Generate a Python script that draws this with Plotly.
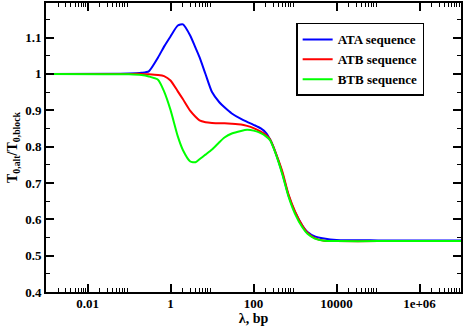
import plotly.graph_objects as go

# lambda (bp) sample points
lam = [1e-3, 0.1, 0.2, 0.3, 0.5, 0.7, 1, 1.5, 2, 3, 4, 5, 7, 10, 15, 20, 30, 50, 70,
       100, 150, 200, 250, 300, 400, 500, 700, 1000, 1500, 2000, 3000, 5000,
       1e4, 1e5, 1e6, 1e7]

ata = [1.0, 1.001, 1.003, 1.007, 1.045, 1.075, 1.103, 1.133, 1.136, 1.105, 1.072, 1.046,
       0.999, 0.95, 0.922, 0.908, 0.891, 0.876, 0.868, 0.86, 0.85, 0.838, 0.82, 0.80,
       0.76, 0.725, 0.665, 0.62, 0.583, 0.565, 0.553, 0.547, 0.543, 0.542, 0.542, 0.542]

atb = [1.0, 1.0, 1.0, 0.999, 0.997, 0.994, 0.982, 0.952, 0.93, 0.898, 0.882, 0.872,
       0.867, 0.865, 0.864, 0.864, 0.863, 0.861, 0.857, 0.851, 0.841, 0.832, 0.82, 0.80,
       0.762, 0.73, 0.668, 0.622, 0.583, 0.563, 0.548, 0.541, 0.54, 0.54, 0.54, 0.54]

btb = [1.0, 0.999, 0.997, 0.993, 0.984, 0.952, 0.901, 0.828, 0.79, 0.759, 0.757, 0.765,
       0.778, 0.792, 0.812, 0.825, 0.836, 0.843, 0.846, 0.844, 0.837, 0.828, 0.818, 0.798,
       0.758, 0.722, 0.662, 0.615, 0.578, 0.56, 0.547, 0.541, 0.54, 0.54, 0.54, 0.54]

x_ticks = [0.01, 1, 100, 10000, 1e6]
x_tick_text = ["0.01", "1", "100", "10000", "1e+06"]

FONT = "Liberation Serif"

fig = go.Figure()
for name, ys, col in [("ATA sequence", ata, "#0000ff"),
                      ("ATB sequence", atb, "#ff0000"),
                      ("BTB sequence", btb, "#00ff00")]:
    fig.add_trace(go.Scatter(x=lam, y=ys, name=name, mode="lines",
                             line=dict(color=col, width=2, shape="spline", smoothing=0.6)))

# minor ticks: 2..9 times each labelled decade
minor_x = [k * v for v in [0.001] + x_ticks for k in range(2, 10)]

axis_common = dict(
    showline=True, linecolor="black", linewidth=2, mirror="allticks",
    ticks="inside", ticklen=8, tickwidth=1.5, tickcolor="black",
    showgrid=False, zeroline=False, automargin=False,
    tickfont=dict(family=FONT, size=13, color="black", weight="bold"),
)

fig.update_xaxes(
    type="log", range=[-3, 7],
    tickvals=x_ticks, ticktext=x_tick_text, ticklabelstandoff=-2,
    minor=dict(tickvals=minor_x, ticks="inside", ticklen=4, tickwidth=1, tickcolor="black"),
    title=dict(text="λ, bp", font=dict(family=FONT, size=14, color="black", weight="bold"),
               standoff=0),
    **axis_common,
)
fig.update_yaxes(
    range=[0.4, 1.195], tickvals=[0.4, 0.5, 0.6, 0.7, 0.8, 0.9, 1.0, 1.1],
    ticktext=["0.4", "0.5", "0.6", "0.7", "0.8", "0.9", "1", "1.1"],
    minor=dict(dtick=0.05, ticks="inside", ticklen=4, tickwidth=1, tickcolor="black"),
    title=dict(text="T<sub>0,alt</sub>/T<sub>0,block</sub>",
               font=dict(family=FONT, size=14, color="black", weight="bold"), standoff=4),
    **axis_common,
)

fig.update_layout(
    width=463, height=326,
    margin=dict(l=46, r=2, t=3, b=34),
    paper_bgcolor="white", plot_bgcolor="white",
    legend=dict(x=0.757, y=0.931, xanchor="center", yanchor="top",
                bordercolor="black", borderwidth=1.5, bgcolor="white",
                font=dict(family=FONT, size=13, color="black", weight="bold"),
                tracegroupgap=0, itemwidth=30),
    showlegend=True,
)

# drop the browser's default page margin so the figure sits at the window origin
fig.write_html("out.html", config={"displayModeBar": False},
               post_script="document.body.style.margin='0';")
